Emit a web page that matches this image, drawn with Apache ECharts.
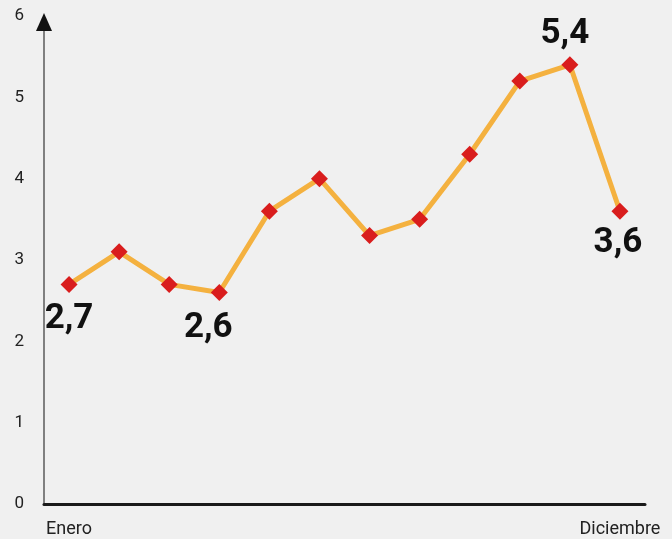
<!DOCTYPE html>
<html><head><meta charset="utf-8">
<script src="https://cdn.jsdelivr.net/npm/echarts@6/dist/echarts.min.js"></script>
<style>html,body{margin:0;padding:0;background:#f0f0f0}#c{width:672px;height:539px}</style>
</head><body><div id="c"></div>
<script>
const months = ['Enero','Febrero','Marzo','Abril','Mayo','Junio','Julio','Agosto','Septiembre','Octubre','Noviembre','Diciembre'];
const values = [2.7, 3.1, 2.7, 2.6, 3.6, 4.0, 3.3, 3.5, 4.3, 5.2, 5.4, 3.6];
const labelled = [0, 3, 10, 11];
const yTicks = [0, 1, 2, 3, 4, 5, 6];

const labelPos = {0: ['bottom', [0, 4]], 3: ['bottom', [-11, 5]], 10: ['top', [-5, 0]], 11: ['bottom', [-2, 1]]};
const data = values.map((v, i) => {
  const d = {value: v};
  if (labelled.includes(i)) {
    d.label = {show: true, position: labelPos[i][0], offset: labelPos[i][1]};
  }
  return d;
});

const chart = echarts.init(document.getElementById('c'));
chart.setOption({
  backgroundColor: '#f0f0f0',
  animation: false,
  grid: {left: 44, right: 27, top: 16, bottom: 35},
  xAxis: {
    type: 'category', data: months, boundaryGap: true,
    axisLine: {lineStyle: {color: '#1a1a1a', width: 3}},
    axisTick: {show: false},
    axisLabel: {
      interval: 0, color: '#222', fontSize: 18, margin: 16, fontFamily: 'Roboto',
      formatter: (v, i) => (i === 0 || i === months.length - 1) ? v : ''
    }
  },
  yAxis: {
    type: 'value', min: yTicks[0], max: yTicks[yTicks.length - 1], interval: 1,
    axisLine: {show: true, lineStyle: {color: '#808080', width: 2}},
    axisTick: {show: false},
    splitLine: {show: false},
    axisLabel: {color: '#222', fontSize: 17, margin: 20, fontFamily: 'Roboto'}
  },
  series: [{
    type: 'line', data: data,
    lineStyle: {color: '#f4b13f', width: 5},
    itemStyle: {color: '#d91d1d'},
    symbol: 'diamond', symbolSize: 17,
    label: {show: false, fontSize: 35, fontWeight: 'bold', color: '#111', fontFamily: 'Roboto',
      formatter: p => String(p.value).replace('.', ',')}
  }]
});
const yTopPx = chart.convertToPixel({yAxisIndex: 0}, yTicks[yTicks.length - 1]);
const xAxisPx = chart.getModel().getComponent('grid').coordinateSystem.getRect().x;
chart.setOption({
  graphic: [{
    type: 'polygon', z: 100,
    shape: {points: [[xAxisPx - 8, yTopPx + 15], [xAxisPx + 8, yTopPx + 15], [xAxisPx, yTopPx - 3]]},
    style: {fill: '#111'}
  }]
});
</script></body></html>
